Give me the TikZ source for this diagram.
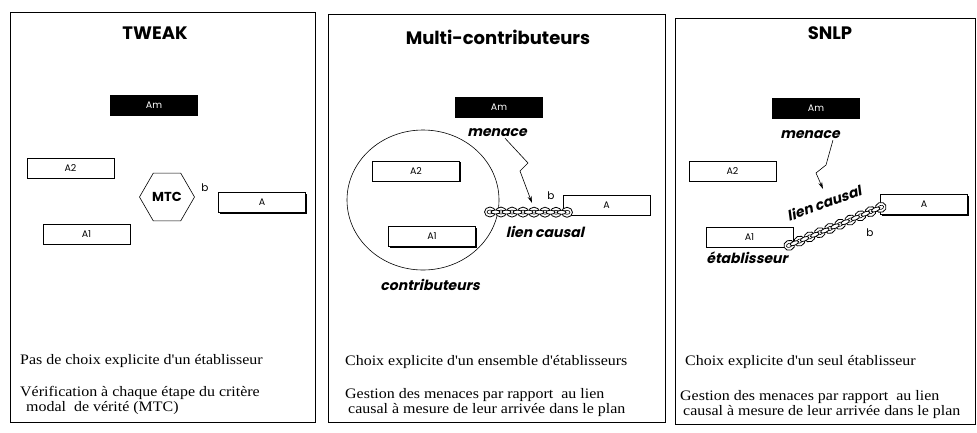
\documentclass[tikz,border=0pt]{standalone}
\usepackage{fontspec}
\setmainfont{Liberation Serif}
\newfontfamily\notefont{Liberation Serif}[FakeStretch=1.1]
\newfontfamily\geofont{Poppins}
\newfontfamily\geoslant{Poppins}[FakeSlant=0.22]
\usetikzlibrary{shapes.geometric, arrows.meta, decorations.markings, shadows}

\tikzset{
  panel/.style={draw, line width=0.8pt},
  title/.style={font=\geofont\bfseries\fontsize{18}{20}\selectfont},
  act/.style={draw, fill=white, line width=0.6pt, minimum width=87pt, minimum height=20pt,
    inner sep=0pt, font=\geofont\fontsize{9.5}{10}\selectfont,
    drop shadow={shadow xshift=1.2pt, shadow yshift=-1.2pt, opacity=1, fill=black}},
  actm/.style={fill=black, text=white, minimum width=88pt, minimum height=21pt,
    inner sep=0pt, font=\geofont\fontsize{9.5}{10}\selectfont},
  tag/.style={font=\geoslant\bfseries\fontsize{14}{15}\selectfont, inner sep=1pt},
  note/.style={anchor=west, font=\notefont\fontsize{14.5}{15}\selectfont, align=left, inner sep=0pt},
  threat/.style={-{Stealth[length=7pt,width=4pt]}, line width=0.6pt},
  chain/.style={
    postaction={decorate, decoration={markings,
      mark=between positions 0 and 1 step 11pt with {
        \draw[fill=white, line width=0.8pt] (0,0) ellipse (5.5pt and 5pt);
        \draw[line width=0.6pt] (0,0) ellipse (3pt and 2pt);}}},
    postaction={decorate, decoration={markings,
      mark=between positions 5.5pt and 1 step 11pt with {
        \draw[fill=white, line width=0.8pt] (0,0) ellipse (4.5pt and 2pt);}}}}
}

\begin{document}
\begin{tikzpicture}[x=1pt, y=-1pt]
  \useasboundingbox (0,0) rectangle (977,432);

  % panneaux
  \draw[panel] (10,12) rectangle (315,422);
  \draw[panel] (328,14) rectangle (665,422);
  \draw[panel] (675,18) rectangle (975,424);

  % TWEAK
  \node[title] (t1) at (155,33) {TWEAK};
  \node[actm] (am1) at (154,105.5) {Am};
  \node[act] (a21) at (70.5,168) {A2};
  \node[act] (a11) at (86.5,234) {A1};
  \node[draw, regular polygon, regular polygon sides=6, minimum size=55pt, inner sep=0pt,
        line width=0.6pt, font=\geofont\bfseries\fontsize{13}{14}\selectfont] (mtc) at (167,197) {MTC};
  \node[act] (a1) at (262,202.5) {A};
  \node[font=\geofont\fontsize{10.5}{11}\selectfont] (b1) at (205,188) {b};
  \node[note] (n11) at (20,361) {Pas de choix explicite d'un établisseur};
  \node[note] (n12) at (20,400) {Vérification à chaque étape du critère\\\hspace*{6pt}modal\ \ de vérité (MTC)};

  % Multi-contributeurs
  \node[title] (t2) at (498,37) {Multi-contributeurs};
  \node[draw, ellipse, minimum width=152pt, minimum height=140pt, line width=0.6pt] (contrib) at (423,200) {};
  \node[actm] (am2) at (499,107.5) {Am};
  \node[act] (a22) at (416,171) {A2};
  \node[act] (a12) at (432,236.5) {A1};
  \node[act] (a2) at (606.5,205) {A};
  \node[tag] (men2) at (497,133) {menace};
  \node[tag] (lien2) at (545,232) {lien causal};
  \node[tag] (con2) at (430,285) {contributeurs};
  \node[font=\geofont\fontsize{10.5}{11}\selectfont] (b2) at (551,196) {b};
  \coordinate (c2) at (490,212);
  \coordinate (hit2) at (532,203);
  \path[chain] (c2) -- ([xshift=6pt, yshift=3pt]a2.south west);
  \draw[threat] ([xshift=8pt]men2.south) -- (528,163) -- (520,171) -- (hit2);
  \node[note] (n21) at (345,362) {Choix explicite d'un ensemble d'établisseurs};
  \node[note] (n22) at (345,403) {Gestion des menaces par rapport\ \ au lien\\\hspace*{3pt}causal à mesure de leur arrivée dans le plan};

  % SNLP
  \node[title] (t3) at (830,33) {SNLP};
  \node[actm] (am3) at (816,108) {Am};
  \node[act] (a23) at (732.5,171) {A2};
  \node[act] (a3) at (924,204.5) {A};
  \node[act] (a13) at (749.5,237) {A1};
  \node[tag] (men3) at (810,135) {menace};
  \node[tag, rotate=20] (lien3) at (824,203) {lien causal};
  \node[tag] (eta3) at (747,258) {établisseur};
  \node[font=\geofont\fontsize{10.5}{11}\selectfont] (b3) at (870,233) {b};
  \coordinate (hit3) at (823,189);
  \path[chain] ([xshift=-4pt, yshift=2pt]a13.south east) -- ([xshift=2pt, yshift=8pt]a3.south west);
  \draw[threat] ([xshift=-8pt]men3.south east) -- (826,165) -- (816,173) -- (hit3);
  \node[note] (n31) at (685,362) {Choix explicite d'un seul établisseur};
  \node[note] (n32) at (680,405) {Gestion des menaces par rapport\ \ au lien\\\hspace*{3pt}causal à mesure de leur arrivée dans le plan};
\end{tikzpicture}
\end{document}
